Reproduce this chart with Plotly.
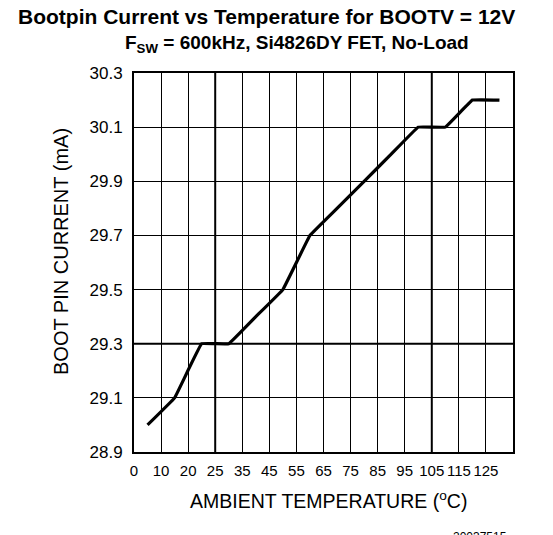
import plotly.graph_objects as go

# Tick labels along the temperature axis (one per grid column boundary)
temp_tick_labels = ["0", "10", "20", "25", "35", "45", "55", "65", "75", "85", "95", "105", "115", "125"]
temp_tick_pos = [0, 1, 2, 3, 4, 5, 6, 7, 8, 9, 10, 11, 12, 13]

# Measured curve: position along the (non-uniform) temperature axis and boot pin current (mA)
curve_pos = [0.5, 1.5, 2.5, 3.5, 4.5, 5.5, 6.5, 7.5, 8.5, 9.5, 10.5, 11.5, 12.5, 13.5]
boot_current_ma = [29.0, 29.1, 29.3, 29.3, 29.4, 29.5, 29.7, 29.8, 29.9, 30.0, 30.1, 30.1, 30.2, 30.2]

y_ticks = [28.9, 29.1, 29.3, 29.5, 29.7, 29.9, 30.1, 30.3]
heavy_x_grid = [3, 11]
heavy_y_grid = [29.3]

FONT = "Liberation Sans, Arial, Helvetica, sans-serif"

fig = go.Figure()
fig.add_trace(go.Scatter(
    x=curve_pos, y=boot_current_ma, mode="lines",
    line=dict(color="black", width=3.2, shape="spline", smoothing=0.15),
    showlegend=False, hoverinfo="skip"))

for xv in heavy_x_grid:
    fig.add_vline(x=xv, line=dict(color="black", width=2), layer="below")
for yv in heavy_y_grid:
    fig.add_hline(y=yv, line=dict(color="black", width=2), layer="below")

fig.update_xaxes(
    range=[0, 14], tickvals=temp_tick_pos, ticktext=temp_tick_labels,
    tickangle=0, showgrid=True, gridcolor="black", gridwidth=1,
    showline=True, linecolor="black", linewidth=2, mirror=True,
    ticks="", zeroline=False, fixedrange=True, automargin=False,
    ticklabelstandoff=4,
    tickfont=dict(family=FONT, size=15, color="black"))
fig.update_yaxes(
    range=[28.9, 30.3], tickvals=y_ticks, tickformat=".1f",
    showgrid=True, gridcolor="black", gridwidth=1,
    showline=True, linecolor="black", linewidth=2, mirror=True,
    ticks="", ticklen=0, zeroline=False, fixedrange=True, automargin=False,
    ticklabelstandoff=6,
    tickfont=dict(family=FONT, size=17, color="black"))

annotations = [
    dict(text="<b>Bootpin Current vs Temperature for BOOTV = 12V</b>",
         x=266, y=17, font=dict(size=21)),
    dict(text="<b>F<sub>SW</sub> = 600kHz, Si4826DY FET, No-Load</b>",
         x=297, y=44, font=dict(size=19)),
    dict(text="AMBIENT TEMPERATURE (<sup>o</sup>C)", x=328, y=500, font=dict(size=19.5)),
    dict(text="BOOT PIN CURRENT (mA)", x=61, y=252, textangle=-90, font=dict(size=20)),
    dict(text="20037515", x=480, y=537, font=dict(size=12)),
]
W, H = 553, 535
L, R, T, B = 134, 40, 73, 83
pw, ph = W - L - R, H - T - B
for a in annotations:
    px, py = a.pop("x"), a.pop("y")
    f = a.pop("font")
    f.update(family=FONT, color="black")
    fig.add_annotation(xref="paper", yref="paper",
                       x=(px - L) / pw, y=(H - B - py) / ph,
                       xanchor="center", yanchor="middle",
                       showarrow=False, font=f, **a)

fig.update_layout(
    width=W, height=H, margin=dict(l=L, r=R, t=T, b=B, autoexpand=False),
    paper_bgcolor="white", plot_bgcolor="white",
    font=dict(family=FONT, color="black"))

fig.write_html("out.html", config={"displayModeBar": False},
               post_script="document.body.style.margin='0';document.body.style.overflow='hidden';")
